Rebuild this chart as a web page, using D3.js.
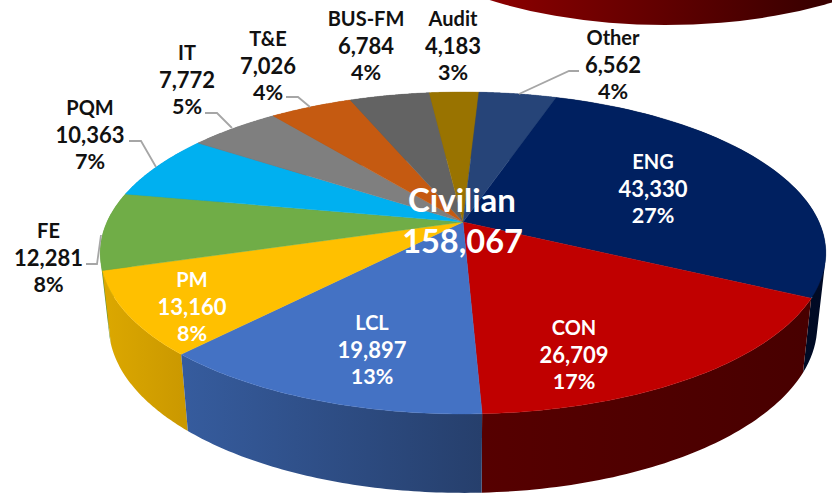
<!DOCTYPE html>
<html><head><meta charset="utf-8">
<script src="https://cdn.jsdelivr.net/npm/d3@7"></script>
<style>html,body{margin:0;background:#fff}svg{display:block}text{font-family:Lato,"Open Sans",sans-serif;font-weight:700;text-anchor:middle;dominant-baseline:central}</style>
</head><body><svg id="c" width="832" height="494"></svg>
<script>
const categories=["ENG","CON","LCL","PM","FE","PQM","IT","T&E","BUS-FM","Audit","Other"];
const values=[43330,26709,19897,13160,12281,10363,7772,7026,6784,4183,6562];
const percents=["27%","17%","13%","8%","8%","7%","5%","4%","4%","3%","4%"];
const colors=["#002060","#c00000","#4472c4","#ffc000","#70ad47","#00b0f0","#7f7f7f","#c55a11","#636363","#997300","#264478"];
const wallLeft=["#000e2c","#560000","#365c9e","#dca800","#60943c","#0090c8","#666","#a04a0e","#505050","#7c5e00","#1e3760"];
const wallRight=["#000a24","#480000","#263f6c","#cb9900","#60943c","#0090c8","#666","#a04a0e","#505050","#7c5e00","#1e3760"];
const totalLabel=["Civilian","158,067"];
const labelPos=[[653,161],[574,327],[372,322],[192,279],[48.5,230],[90,107],[187,52],[268,38],[366,18],[453,18],[613,37]];
const labelDark=[false,false,false,false,true,true,true,true,true,true,true];
const lineSizes=[20,22,21.5];
const leaders={4:[[86,264],[97,264],[101,235]],5:[[129,141],[141,141],[156,167]],6:[[205,113],[217,113],[232,128]],7:[[286,97],[298,97],[310,107]],10:[[519,94],[569,71],[579,71]]};

const svg=d3.select("#c");
const cx=463,cy=222,A=356,B=155,p=0.1925,A2=347.6,Yb=293.5,B2=161;
const top3=t=>{const u=Math.sin(t),v=Math.cos(t),d=1+p*v;return [cx+A*u/d,cy-B*v/d];};
const bot3=t=>{const u=Math.sin(t),v=Math.cos(t),d=1+p*v;return [cx+A2*u/d,Yb-B2*v/d];};
const start=18*Math.PI/180;
const pie=d3.pie().sort(null).startAngle(start).endAngle(start+2*Math.PI);
const arcs=pie(values).map((d,i)=>({...d,i}));
const line=d3.line();
const steps=(a,b)=>d3.range(0,61).map(k=>a+(b-a)*k/60);
const defs=svg.append("defs");

// clipped shape of the neighbouring chart at the top edge
const blob=defs.append("linearGradient").attr("id","blob").attr("gradientUnits","userSpaceOnUse").attr("x1",490).attr("x2",815).attr("y1",0).attr("y2",0);
blob.append("stop").attr("offset",0).attr("stop-color","#8c0000");
blob.append("stop").attr("offset",1).attr("stop-color","#3a0000");
svg.append("ellipse").attr("cx",665).attr("cy",-95).attr("rx",287).attr("ry",120).attr("fill","url(#blob)");

// walls, back to front; each wall is a run of same-winding quads so the silhouette is filled
const walls=arcs.slice().sort((a,b)=>Math.cos((b.startAngle+b.endAngle)/2)-Math.cos((a.startAngle+a.endAngle)/2));
walls.forEach(d=>{
  const ts=steps(d.startAngle,d.endAngle);
  const xs=d3.extent(ts.map(t=>top3(t)[0]));
  const g=defs.append("linearGradient").attr("id","w"+d.i).attr("gradientUnits","userSpaceOnUse").attr("x1",xs[0]).attr("x2",xs[1]).attr("y1",0).attr("y2",0);
  g.append("stop").attr("offset",0).attr("stop-color",wallLeft[d.i]);
  g.append("stop").attr("offset",1).attr("stop-color",wallRight[d.i]);
  let path="";
  for(let k=0;k<ts.length-1;k++){
    let q=[top3(ts[k]),top3(ts[k+1]),bot3(ts[k+1]),bot3(ts[k])];
    if(d3.polygonArea(q)<0) q=q.reverse();
    path+=line(q)+"Z";
  }
  svg.append("path").attr("d",path).attr("fill",`url(#w${d.i})`);
});

// top surface
arcs.forEach(d=>{
  const pts=[[cx,cy]].concat(steps(d.startAngle,d.endAngle).map(top3));
  svg.append("path").attr("d",line(pts)+"Z").attr("fill",colors[d.i]).attr("stroke",colors[d.i]).attr("stroke-width",0.4);
});

// leaders
Object.entries(leaders).forEach(([k,pts])=>{
  svg.append("path").attr("d",line(pts)).attr("fill","none").attr("stroke","#a6a6a6").attr("stroke-width",1.8);
});

// labels
const fmt=d3.format(",");
arcs.forEach(d=>{
  const [x,y]=labelPos[d.i];
  [categories[d.i],fmt(values[d.i]),percents[d.i]].forEach((s,j)=>{
    svg.append("text").attr("x",x).attr("y",y+j*27).attr("font-size",lineSizes[j]).attr("fill",labelDark[d.i]?"#111":"#fff").text(s);
  });
});
svg.append("text").attr("x",462).attr("y",199).attr("font-size",33).attr("fill","#fff").text(totalLabel[0]);
svg.append("text").attr("x",462.5).attr("y",240).attr("font-size",32.5).attr("fill","#fff").text(totalLabel[1]);
</script></body></html>
